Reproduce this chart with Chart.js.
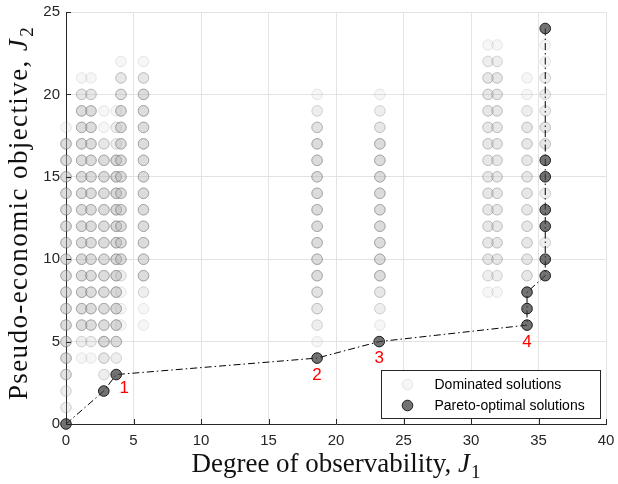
<!DOCTYPE html>
<html>
<head>
<meta charset="utf-8">
<script src="https://cdn.jsdelivr.net/npm/chart.js@4.4.1/dist/chart.umd.min.js"></script>
<style>
    html, body { margin: 0; padding: 0; background: #fff; }
    #wrap { width: 618px; height: 484px; position: relative; }
</style>
</head>
<body>
<div id="wrap"><canvas id="paretoChart"></canvas></div>
<script>
/* ============================================================
   Pareto front: degree of observability vs pseudo-economic objective
   ============================================================ */

// ---- Dominated solutions ----
// one column per J1 value; counts[k] = number of solutions at J2 = firstJ2 + k
// (several solutions share a spot, so those markers come out darker)
const domJ1      = [0, 1.16, 1.85, 2.81, 3.72, 4.07, 5.74, 18.6, 23.25, 31.26, 31.93, 34.15, 35.5];
const domFirstJ2 = [1, 4, 4, 3, 4, 6, 6, 5, 6, 8, 8, 9, 11];
const domCounts  = [
    [2, 2, 4, 5, 5, 5, 5, 5, 5, 5, 5, 5, 5, 5, 5, 5, 5, 1],
    [1, 2, 5, 5, 5, 5, 5, 5, 5, 5, 5, 5, 5, 5, 5, 5, 3, 1],
    [1, 2, 5, 5, 5, 5, 5, 5, 5, 5, 5, 5, 5, 5, 5, 5, 3, 1],
    [2, 3, 6, 5, 5, 5, 5, 5, 5, 5, 5, 5, 5, 5, 3, 1, 1],
    [2, 5, 6, 6, 6, 6, 6, 6, 6, 6, 6, 6, 6, 2, 2, 1],
    [1, 1, 1, 2, 5, 5, 5, 5, 5, 5, 5, 5, 5, 5, 4, 3, 1],
    [1, 1, 2, 5, 5, 5, 5, 5, 5, 5, 5, 5, 5, 5, 5, 3, 1],
    [1, 2, 3, 4, 5, 5, 5, 5, 5, 5, 5, 5, 5, 4, 2, 1],
    [1, 2, 3, 5, 5, 5, 5, 5, 5, 5, 5, 5, 3, 2, 1],
    [1, 2, 3, 3, 3, 3, 3, 3, 3, 3, 3, 3, 3, 3, 2, 1],
    [1, 2, 3, 3, 3, 3, 3, 3, 3, 3, 3, 3, 3, 3, 2, 1],
    [3, 3, 3, 3, 3, 3, 3, 3, 3, 3, 2, 1, 1],
    [2, 0, 0, 2, 0, 0, 3, 3, 2, 2, 2, 1, 1],
];

// ---- Pareto-optimal solutions ----
const paretoJ1   = [0, 2.8, 3.72, 18.6, 23.2, 34.15, 34.15, 34.15, 35.5, 35.5, 35.5, 35.5, 35.5, 35.5, 35.5];
const paretoJ2   = [0, 2, 3, 4, 5, 6, 7, 8, 9, 10, 12, 13, 15, 16, 24];
const paretoTags = ['', '', '1', '2', '3', '4', '', '', '', '', '', '', '', '', ''];

// ---- Axes ----
const xTicks = [0, 5, 10, 15, 20, 25, 30, 35, 40];
const yTicks = [0, 5, 10, 15, 20, 25];
const xTitle = ['Degree of observability, ', 'J', '1'];
const yTitle = ['Pseudo-economic objective, ', 'J', '2'];
const legendNames = ['Dominated solutions', 'Pareto-optimal solutions'];

// expand the columns into one point per solution
const dominated = [];
domJ1.forEach((x, c) => {
    domCounts[c].forEach((n, k) => {
        for (let i = 0; i < n; i++) dominated.push({ x: x, y: domFirstJ2[c] + k });
    });
});
const pareto = paretoJ1.map((x, i) => ({ x: x, y: paretoJ2[i] }));

const SANS  = '"Liberation Sans", Arial, Helvetica, sans-serif';
const SERIF = '"Liberation Serif", "Times New Roman", serif';
const INK   = '#262626';

const DOM_FILL   = 'rgba(185,185,185,0.13)';
const DOM_EDGE   = 'rgba(90,90,90,0.13)';
const PAR_FILL   = 'rgba(60,60,60,0.72)';
const PAR_EDGE   = '#1a1a1a';
const MARKER_R   = 5.3;

// text with an italic symbol and a subscript, centred on cx
function drawMathText(ctx, parts, cx, baseline, size, spacing) {
    const fMain = `${size}px ${SERIF}`;
    const fIt   = `italic ${size}px ${SERIF}`;
    const fSub  = `${Math.round(size * 0.7)}px ${SERIF}`;
    ctx.letterSpacing = spacing + 'px';
    ctx.font = fMain; const w1 = ctx.measureText(parts[0]).width;
    ctx.font = fIt;   const w2 = ctx.measureText(parts[1]).width;
    ctx.font = fSub;  const w3 = ctx.measureText(parts[2]).width;
    let x = cx - (w1 + w2 + w3 + 1) / 2;
    ctx.textAlign = 'left';
    ctx.textBaseline = 'alphabetic';
    ctx.fillStyle = '#111';
    ctx.font = fMain; ctx.fillText(parts[0], x, baseline); x += w1;
    ctx.font = fIt;   ctx.fillText(parts[1], x, baseline); x += w2 + 1;
    ctx.font = fSub;  ctx.fillText(parts[2], x, baseline + size * 0.22);
    ctx.letterSpacing = '0px';
}

function drawMarker(ctx, x, y, fill, edge) {
    ctx.beginPath();
    ctx.arc(x, y, MARKER_R, 0, Math.PI * 2);
    ctx.fillStyle = fill;
    ctx.fill();
    ctx.lineWidth = 1;
    ctx.strokeStyle = edge;
    ctx.stroke();
}

// ---- inward ticks, point tags, legend box and axis titles ----
const decorations = {
    id: 'decorations',
    afterDraw(chart) {
        const ctx = chart.ctx;
        const area = chart.chartArea;
        const xs = chart.scales.x;
        const ys = chart.scales.y;
        ctx.save();

        // inward tick marks
        ctx.strokeStyle = INK;
        ctx.lineWidth = 1;
        ctx.beginPath();
        xTicks.forEach(v => {
            const px = Math.round(xs.getPixelForValue(v)) + 0.5;
            ctx.moveTo(px, area.bottom);
            ctx.lineTo(px, area.bottom - 5);
        });
        yTicks.forEach(v => {
            const py = Math.round(ys.getPixelForValue(v)) + 0.5;
            ctx.moveTo(area.left, py);
            ctx.lineTo(area.left + 5, py);
        });
        ctx.stroke();

        // red tags under the numbered pareto points
        ctx.fillStyle = '#ff0000';
        ctx.font = `17px ${SANS}`;
        ctx.textAlign = 'center';
        ctx.textBaseline = 'middle';
        paretoTags.forEach((tag, i) => {
            if (!tag) return;
            const px = xs.getPixelForValue(paretoJ1[i]);
            const py = ys.getPixelForValue(paretoJ2[i]);
            const dx = i === 2 ? 8 : 0;
            const dy = i === 2 ? 14 : 17;
            ctx.fillText(tag, px + dx, py + dy);
        });

        // legend box (bottom-right, inside the axes)
        const boxW = 219, boxH = 48;
        const bx = Math.round(area.right - 6 - boxW) + 0.5;
        const by = Math.round(area.bottom - 6 - boxH) + 0.5;
        ctx.fillStyle = '#fff';
        ctx.fillRect(bx, by, boxW, boxH);
        ctx.strokeStyle = INK;
        ctx.strokeRect(bx, by, boxW, boxH);
        const rowY = [by + 14, by + 35];
        drawMarker(ctx, bx + 26, rowY[0], DOM_FILL, DOM_EDGE);
        drawMarker(ctx, bx + 26, rowY[1], PAR_FILL, PAR_EDGE);
        ctx.fillStyle = '#000';
        ctx.font = `14px ${SANS}`;
        ctx.textAlign = 'left';
        ctx.textBaseline = 'middle';
        legendNames.forEach((name, i) => ctx.fillText(name, bx + 53, rowY[i] + 0.5));

        // axis titles
        drawMathText(ctx, xTitle, (area.left + area.right) / 2, 472, 27, 0);
        ctx.translate(27, 213);
        ctx.rotate(-Math.PI / 2);
        drawMathText(ctx, yTitle, 0, 0, 27, 1.4);

        ctx.restore();
    }
};

// pin the plot area: no automatic room for overhanging tick labels
function noOverhang(s) {
    s.paddingLeft = 0;
    s.paddingRight = 0;
    s.paddingTop = 0;
    s.paddingBottom = 0;
}

(function () {
    const canvas = document.getElementById('paretoChart');
    new Chart(canvas.getContext('2d'), {
        type: 'scatter',
        data: {
            datasets: [{
                label: legendNames[1],
                data: pareto,
                showLine: true,
                clip: false,
                borderColor: '#000',
                borderWidth: 1,
                borderDash: [7, 3, 1.5, 3],
                pointRadius: MARKER_R,
                pointBackgroundColor: PAR_FILL,
                pointBorderColor: PAR_EDGE,
                pointBorderWidth: 1,
                tension: 0,
            }, {
                label: legendNames[0],
                data: dominated,
                clip: false,
                pointRadius: MARKER_R,
                pointBackgroundColor: DOM_FILL,
                pointBorderColor: DOM_EDGE,
                pointBorderWidth: 1,
            }]
        },
        options: {
            responsive: true,
            maintainAspectRatio: false,
            animation: false,
            events: [],
            layout: { padding: { top: 12, right: 12, left: 0, bottom: 0 } },
            plugins: {
                legend: { display: false },
                tooltip: { enabled: false },
            },
            scales: {
                x: {
                    type: 'linear',
                    min: 0, max: 40,
                    afterFit: s => { s.height = 60; noOverhang(s); },
                    afterBuildTicks: s => { s.ticks = xTicks.map(v => ({ value: v })); },
                    grid: { color: '#e3e3e3', drawTicks: false },
                    border: { color: INK, width: 1 },
                    ticks: { color: INK, font: { family: SANS, size: 15 }, padding: 8, maxRotation: 0 },
                },
                y: {
                    type: 'linear',
                    min: 0, max: 25,
                    afterFit: s => { s.width = 66; noOverhang(s); },
                    afterBuildTicks: s => { s.ticks = yTicks.map(v => ({ value: v })); },
                    grid: { color: '#e3e3e3', drawTicks: false },
                    border: { color: INK, width: 1 },
                    ticks: { color: INK, font: { family: SANS, size: 15 }, padding: 6 },
                }
            }
        },
        plugins: [decorations]
    });
})();
</script>
</body>
</html>
